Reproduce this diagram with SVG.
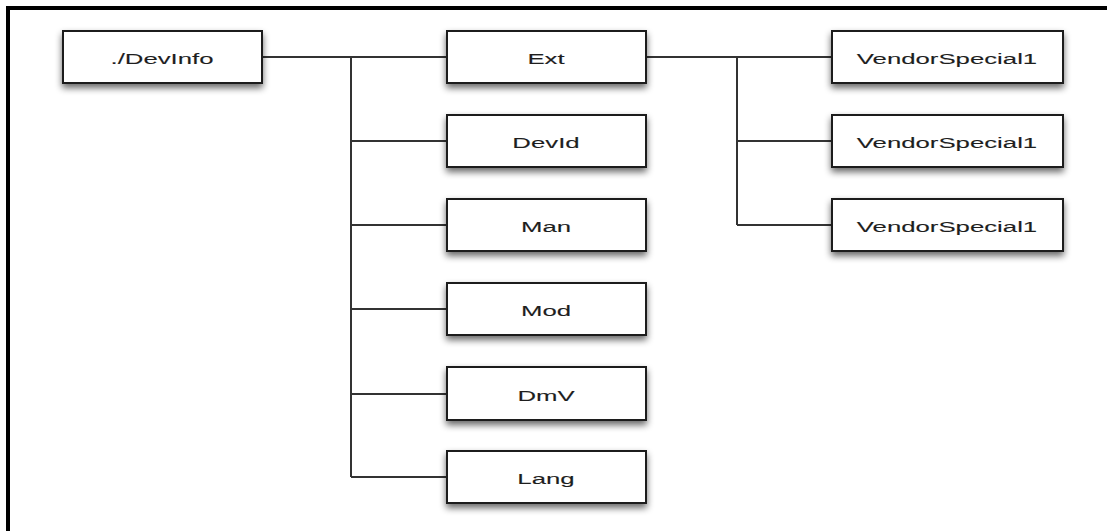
<svg xmlns="http://www.w3.org/2000/svg" width="1107" height="531" viewBox="0 0 1107 531">
  <defs>
    <filter id="shadow" x="-20%" y="-30%" width="140%" height="170%">
      <feGaussianBlur in="SourceAlpha" stdDeviation="3.5"/>
      <feOffset dx="0" dy="4" result="blur"/>
      <feComponentTransfer><feFuncA type="linear" slope="0.6"/></feComponentTransfer>
      <feMerge><feMergeNode/><feMergeNode in="SourceGraphic"/></feMerge>
    </filter>
    <style>
      .box { fill: #ffffff; stroke: #1a1a1a; stroke-width: 2; filter: url(#shadow); }
      .label { font-family: "Liberation Sans", Arial, sans-serif; font-size: 14px; fill: #1e1e1e; stroke: #1e1e1e; stroke-width: 0.1; text-anchor: middle; dominant-baseline: central; }
      .wire { fill: none; stroke: #333333; stroke-width: 2; }
    </style>
  </defs>

  <rect x="0" y="0" width="1107" height="531" fill="#ffffff"/>
  <!-- outer frame, open on the right and bottom -->
  <path d="M8 531 V8 H1107" fill="none" stroke="#000000" stroke-width="4"/>

  <g id="connectors">
    <path class="wire" d="M262 57 H447"/>
    <path class="wire" d="M351 57 V477"/>
    <path class="wire" d="M351 141 H447"/>
    <path class="wire" d="M351 225 H447"/>
    <path class="wire" d="M351 309 H447"/>
    <path class="wire" d="M351 394 H447"/>
    <path class="wire" d="M351 477 H447"/>
    <path class="wire" d="M646 57 H832"/>
    <path class="wire" d="M737 57 V225"/>
    <path class="wire" d="M737 141 H832"/>
    <path class="wire" d="M737 225 H832"/>
  </g>

  <!-- labels are drawn wide: 14px type stretched 1.84x horizontally -->
  <g id="devinfo"><rect class="box" x="63" y="31" width="199" height="52"/><text class="label" transform="translate(162 58.5) scale(1.84 1)">./DevInfo</text></g>
  <g id="ext"><rect class="box" x="447" y="31" width="199" height="52"/><text class="label" transform="translate(546 58.5) scale(1.84 1)">Ext</text></g>
  <g id="devid"><rect class="box" x="447" y="115" width="199" height="52"/><text class="label" transform="translate(546 142.5) scale(1.84 1)">DevId</text></g>
  <g id="man"><rect class="box" x="447" y="199" width="199" height="52"/><text class="label" transform="translate(546 226.5) scale(1.84 1)">Man</text></g>
  <g id="mod"><rect class="box" x="447" y="283" width="199" height="52"/><text class="label" transform="translate(546 310.5) scale(1.84 1)">Mod</text></g>
  <g id="dmv"><rect class="box" x="447" y="367" width="199" height="53"/><text class="label" transform="translate(546 395.5) scale(1.84 1)">DmV</text></g>
  <g id="lang"><rect class="box" x="447" y="451" width="199" height="52"/><text class="label" transform="translate(546 478.5) scale(1.84 1)">Lang</text></g>
  <g id="vendor1"><rect class="box" x="832" y="31" width="231" height="52"/><text class="label" transform="translate(947 58.5) scale(1.84 1)">VendorSpecial1</text></g>
  <g id="vendor2"><rect class="box" x="832" y="115" width="231" height="52"/><text class="label" transform="translate(947 142.5) scale(1.84 1)">VendorSpecial1</text></g>
  <g id="vendor3"><rect class="box" x="832" y="199" width="231" height="52"/><text class="label" transform="translate(947 226.5) scale(1.84 1)">VendorSpecial1</text></g>
</svg>
